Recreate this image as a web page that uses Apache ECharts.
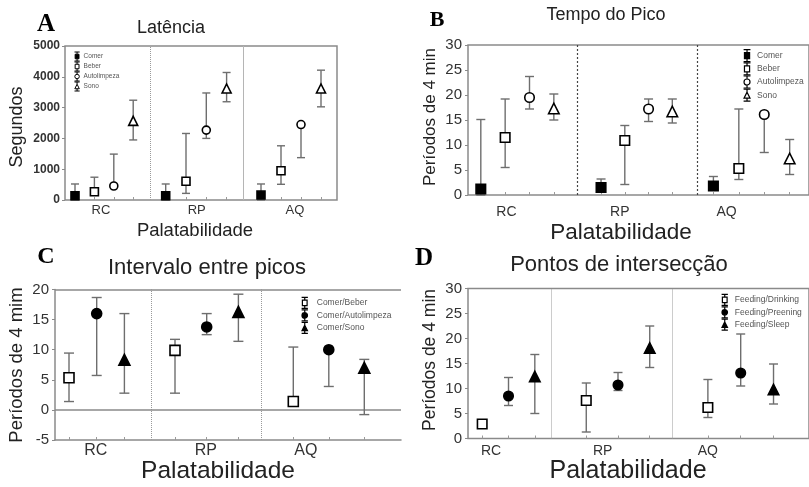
<!DOCTYPE html>
<html>
<head>
<meta charset="utf-8">
<script src="https://cdn.jsdelivr.net/npm/echarts@6/dist/echarts.min.js"></script>
<style>
  html, body { margin: 0; padding: 0; background: #fff; }
  #chart { width: 809px; height: 487px; }
</style>
</head>
<body>
<div id="chart"></div>
<script>
// Palatability groups shared by all four panels
const categories = ['RC', 'RP', 'AQ'];

// A — Latência (segundos): median with lower / upper whisker per group
const latComer = [140, 140, 160];
const latComerLow = [0, 0, 0];
const latComerHigh = [520, 520, 520];
const latBeber = [270, 610, 950];
const latBeberLow = [200, 215, 510];
const latBeberHigh = [740, 2160, 1760];
const latAuto = [455, 2270, 2450];
const latAutoLow = [420, 2000, 1375];
const latAutoHigh = [1490, 3475, 2450];
const latSono = [2570, 3620, 3620];
const latSonoLow = [1950, 3190, 3025];
const latSonoHigh = [3240, 4140, 4215];
const latTicks = [0, 1000, 2000, 3000, 4000, 5000];

// B — Tempo do Pico (períodos de 4 min)
const picoComer = [1.2, 1.5, 1.8];
const picoComerLow = [0, 1.5, 1.8];
const picoComerHigh = [15.1, 3.2, 3.7];
const picoBeber = [11.5, 10.9, 5.3];
const picoBeberLow = [5.5, 2.1, 3.1];
const picoBeberHigh = [19.2, 13.9, 17.2];
const picoAuto = [19.5, 17.2, 16.1];
const picoAutoLow = [17.2, 14.7, 8.5];
const picoAutoHigh = [23.7, 19.2, 16.1];
const picoSono = [17.3, 16.7, 7.3];
const picoSonoLow = [15.0, 14.4, 4.1];
const picoSonoHigh = [20.2, 19.2, 11.1];
const picoTicks = [0, 5, 10, 15, 20, 25, 30];

// C — Intervalo entre picos (períodos de 4 min)
const intBeber = [5.33, 9.89, 1.39];
const intBeberLow = [1.39, 2.78, 1.39];
const intBeberHigh = [9.44, 11.72, 10.44];
const intAuto = [16.0, 13.78, 10.0];
const intAutoLow = [5.72, 12.5, 3.89];
const intAutoHigh = [18.67, 16.0, 10.0];
const intSono = [8.33, 16.28, 7.0];
const intSonoLow = [2.78, 11.39, -0.78];
const intSonoHigh = [16.0, 19.22, 8.39];
const intTicks = [-5, 0, 5, 10, 15, 20];

// D — Pontos de intersecção (períodos de 4 min)
const ptDrinking = [2.9, 7.6, 6.2];
const ptDrinkingLow = [2.5, 1.3, 4.2];
const ptDrinkingHigh = [3.4, 11.1, 11.8];
const ptPreening = [8.5, 10.7, 13.1];
const ptPreeningLow = [6.6, 9.6, 10.5];
const ptPreeningHigh = [12.2, 13.2, 20.9];
const ptSleep = [12.4, 18.1, 9.8];
const ptSleepLow = [5.0, 14.2, 6.9];
const ptSleepHigh = [16.8, 22.5, 14.9];
const ptTicks = [0, 5, 10, 15, 20, 25, 30];

const FONT = '"Liberation Sans", Arial, Helvetica, sans-serif';
const SERIF = '"Liberation Serif", "Times New Roman", serif';
const WHISKER = '#6e6e6e';

// Legend glyphs: the marker with a capped whisker above and below it
const LEGEND_ICONS = {
  rect: 'path://M1,0H9M5,0V3.5M2,3.5H8V10.5H2ZM5,10.5V14M1,14H9',
  circle: 'path://M1,0H9M5,0V3.5M5,3.5A3.5,3.5,0,1,1,4.99,3.5ZM5,10.5V14M1,14H9',
  triangle: 'path://M1,0H9M5,0V3.5M5,3.5L8.5,10.5H1.5ZM5,10.5V14M1,14H9'
};

// Panel layout: x axis runs in plot pixels; each group places its points from a start offset with a fixed step
const panels = [
  {
    grid: { left: 65, top: 46, width: 272, height: 154 },
    groups: [[10, 19.4], [100.7, 20.3], [196, 20]],
    dividers: [[85, 'dotted', '#9a9a9a', 1], [178.7, 'solid', '#b5b5b5', 1]],
    labelPos: [36, 131.7, 230],
    ticks: latTicks, yFont: 12, yBold: true, yMargin: 5,
    xFont: 13, xMargin: 4,
    symbolSize: 8, capHalf: 4, border: true,
    legend: { left: 74, top: 51.5, gap: 0, w: 7, h: 9, font: 6.5, lh: 7, pad: -2, bw: 1 },
    series: [
      { name: 'Comer', v: latComer, lo: latComerLow, hi: latComerHigh, symbol: 'rect', filled: true },
      { name: 'Beber', v: latBeber, lo: latBeberLow, hi: latBeberHigh, symbol: 'rect', filled: false },
      { name: 'Autolimpeza', v: latAuto, lo: latAutoLow, hi: latAutoHigh, symbol: 'circle', filled: false },
      { name: 'Sono', v: latSono, lo: latSonoLow, hi: latSonoHigh, symbol: 'triangle', filled: false }
    ]
  },
  {
    grid: { left: 468, top: 45, width: 346, height: 150 },
    groups: [[13, 24.7], [135, 24.1], [249, 25.8]],
    dividers: [[110.6, [2, 2], '#444', 1.2], [232.3, [2, 2], '#444', 1.2]],
    labelPos: [39, 154, 262.3],
    ticks: picoTicks, yFont: 15, yBold: false, yMargin: 6,
    xFont: 14, xMargin: 10,
    symbolSize: 9.5, capHalf: 4.5, border: true,
    legend: { left: 743, top: 49, gap: 0, w: 8, h: 12, font: 8.5, lh: 10, pad: 1, bw: 1.2 },
    series: [
      { name: 'Comer', v: picoComer, lo: picoComerLow, hi: picoComerHigh, symbol: 'rect', filled: true },
      { name: 'Beber', v: picoBeber, lo: picoBeberLow, hi: picoBeberHigh, symbol: 'rect', filled: false },
      { name: 'Autolimpeza', v: picoAuto, lo: picoAutoLow, hi: picoAutoHigh, symbol: 'circle', filled: false },
      { name: 'Sono', v: picoSono, lo: picoSonoLow, hi: picoSonoHigh, symbol: 'triangle', filled: false }
    ]
  },
  {
    grid: { left: 55, top: 289.5, width: 346, height: 150.5 },
    groups: [[14, 27.7], [120, 31.7], [238.3, 35.5]],
    dividers: [[96.7, 'dotted', '#9a9a9a', 1], [206.7, 'dotted', '#9a9a9a', 1]],
    labelPos: [40.8, 150.8, 250.8],
    ticks: intTicks, yFont: 15, yBold: false, yMargin: 6,
    xFont: 16, xMargin: 3,
    symbolSize: 10, capHalf: 5, border: false, zeroLine: true,
    legend: { left: 301, top: 296.8, gap: 0.3, w: 8, h: 11, font: 8.5, lh: 10, pad: 3, bw: 1.2 },
    series: [
      { name: 'Comer/Beber', v: intBeber, lo: intBeberLow, hi: intBeberHigh, symbol: 'rect', filled: false },
      { name: 'Comer/Autolimpeza', v: intAuto, lo: intAutoLow, hi: intAutoHigh, symbol: 'circle', filled: true },
      { name: 'Comer/Sono', v: intSono, lo: intSonoLow, hi: intSonoHigh, symbol: 'triangle', filled: true }
    ]
  },
  {
    grid: { left: 468, top: 288.5, width: 346, height: 150 },
    groups: [[14.4, 26.7], [120, 32.2], [243.4, 33.3]],
    dividers: [[84, 'dotted', '#9a9a9a', 1], [207.7, 'dotted', '#9a9a9a', 1]],
    labelPos: [23.4, 136.7, 243.4],
    ticks: ptTicks, yFont: 15, yBold: false, yMargin: 6,
    xFont: 14, xMargin: 6,
    symbolSize: 9.5, capHalf: 4.5, border: true,
    legend: { left: 721, top: 293.8, gap: 0.2, w: 8, h: 11, font: 8.5, lh: 10, pad: 1, bw: 1.2 },
    series: [
      { name: 'Feeding/Drinking', v: ptDrinking, lo: ptDrinkingLow, hi: ptDrinkingHigh, symbol: 'rect', filled: false },
      { name: 'Feeding/Preening', v: ptPreening, lo: ptPreeningLow, hi: ptPreeningHigh, symbol: 'circle', filled: true },
      { name: 'Feeding/Sleep', v: ptSleep, lo: ptSleepLow, hi: ptSleepHigh, symbol: 'triangle', filled: true }
    ]
  }
];

function errorBarRenderer(capHalf) {
  return function (params, api) {
    const x = api.value(0);
    const pLo = api.coord([x, api.value(1)]);
    const pHi = api.coord([x, api.value(2)]);
    const st = { stroke: WHISKER, lineWidth: 1.4 };
    return {
      type: 'group',
      children: [
        { type: 'line', shape: { x1: pLo[0], y1: pLo[1], x2: pHi[0], y2: pHi[1] }, style: st },
        { type: 'line', shape: { x1: pLo[0] - capHalf, y1: pLo[1], x2: pLo[0] + capHalf, y2: pLo[1] }, style: st },
        { type: 'line', shape: { x1: pHi[0] - capHalf, y1: pHi[1], x2: pHi[0] + capHalf, y2: pHi[1] }, style: st }
      ]
    };
  };
}

const option = {
  animation: false,
  backgroundColor: '#fff',
  textStyle: { fontFamily: FONT },
  grid: [], xAxis: [], yAxis: [], series: [], legend: []
};

panels.forEach((p, pi) => {
  const ticks = p.ticks;
  option.grid.push(Object.assign({
    show: p.border, borderColor: '#8a8a8a', borderWidth: 1.5, backgroundColor: 'transparent'
  }, p.grid));

  const pointX = (g, i) => p.groups[g][0] + i * p.groups[g][1];
  const tickXs = [];
  p.series.forEach((s, i) => categories.forEach((c, g) => tickXs.push(pointX(g, i))));

  option.xAxis.push({
    type: 'value', gridIndex: pi, min: 0, max: p.grid.width,
    splitLine: { show: false },
    axisLine: { show: !p.border, onZero: false, lineStyle: { color: '#8a8a8a', width: 1.5 } },
    axisTick: { show: true, inside: true, length: 3, customValues: tickXs, lineStyle: { color: '#9a9a9a' } },
    axisLabel: {
      show: true, customValues: p.labelPos, margin: p.xMargin,
      fontSize: p.xFont, color: '#333', fontFamily: FONT,
      formatter: (v) => {
        const k = p.labelPos.findIndex(q => Math.abs(q - v) < 0.6);
        return k >= 0 ? categories[k] : '';
      }
    }
  });
  option.yAxis.push({
    type: 'value', gridIndex: pi,
    min: ticks[0], max: ticks[ticks.length - 1], interval: ticks[1] - ticks[0],
    splitLine: { show: false },
    axisLine: { show: !p.border, onZero: false, lineStyle: { color: '#8a8a8a', width: 1.5 } },
    axisTick: { show: true, length: 3, lineStyle: { color: '#8a8a8a' } },
    axisLabel: {
      margin: p.yMargin, fontSize: p.yFont, color: '#333',
      fontWeight: p.yBold ? 'bold' : 'normal', fontFamily: FONT,
      formatter: (v) => String(v)
    }
  });

  // whiskers for every point of the panel
  const bars = [];
  p.series.forEach((s, i) => categories.forEach((c, g) => bars.push([pointX(g, i), s.lo[g], s.hi[g]])));
  option.series.push({
    type: 'custom', name: 'whiskers-' + pi, xAxisIndex: pi, yAxisIndex: pi,
    renderItem: errorBarRenderer(p.capHalf),
    encode: { x: 0, y: [1, 2] }, data: bars, z: 2, silent: true
  });

  p.series.forEach((s, i) => {
    const ser = {
      type: 'scatter', name: s.name, xAxisIndex: pi, yAxisIndex: pi,
      symbol: s.symbol, symbolSize: s.symbol === 'triangle' ? p.symbolSize + 1 : p.symbolSize,
      itemStyle: { color: s.filled ? '#000' : '#fff', borderColor: '#000', borderWidth: 1.6, opacity: 1 },
      data: categories.map((c, g) => [pointX(g, i), s.v[g]]),
      z: 5, silent: true
    };
    if (i === 0) {
      const lines = p.dividers.map(d => ({
        xAxis: d[0], lineStyle: { type: d[1], color: d[2], width: d[3] }
      }));
      if (p.zeroLine) {
        lines.push({ yAxis: 0, lineStyle: { type: 'solid', color: '#8a8a8a', width: 1.5 } });
        lines.push({ yAxis: ticks[ticks.length - 1], lineStyle: { type: 'solid', color: '#8a8a8a', width: 1.5 } });
      }
      ser.markLine = { silent: true, symbol: ['none', 'none'], label: { show: false }, animation: false, data: lines, z: 1 };
    }
    option.series.push(ser);
  });

  option.legend.push({
    orient: 'vertical', left: p.legend.left, top: p.legend.top,
    itemWidth: p.legend.w, itemHeight: p.legend.h, itemGap: p.legend.gap,
    padding: 0, selectedMode: false,
    data: p.series.map(s => ({
      name: s.name,
      icon: LEGEND_ICONS[s.symbol],
      itemStyle: { color: s.filled ? '#000' : '#fff', borderColor: '#000', borderWidth: p.legend.bw }
    })),
    textStyle: {
      fontSize: p.legend.font, lineHeight: p.legend.lh, color: '#555', fontFamily: FONT,
      padding: [0, 0, 0, p.legend.pad]
    }
  });
});

// panel letters, titles and axis names
const textEl = (x, y, text, size, opts = {}) => ({
  type: 'text', x, y, rotation: opts.rot || 0, silent: true,
  style: {
    text, fill: opts.color || '#222',
    font: (opts.bold ? 'bold ' : '') + size + 'px ' + (opts.font || FONT),
    textAlign: 'center', textVerticalAlign: 'middle'
  }
});
option.graphic = [
  textEl(46, 25, 'A', 25, { bold: true, font: SERIF, color: '#000' }),
  textEl(437, 20, 'B', 22, { bold: true, font: SERIF, color: '#000' }),
  textEl(46, 257, 'C', 24, { bold: true, font: SERIF, color: '#000' }),
  textEl(424, 259, 'D', 25, { bold: true, font: SERIF, color: '#000' }),
  textEl(171, 28, 'Latência', 18),
  textEl(606, 15, 'Tempo do Pico', 18),
  textEl(207, 268, 'Intervalo entre picos', 22),
  textEl(619, 265, 'Pontos de intersecção', 22),
  textEl(17, 127, 'Segundos', 18, { rot: Math.PI / 2 }),
  textEl(430, 117, 'Períodos de 4 min', 17, { rot: Math.PI / 2 }),
  textEl(17, 365, 'Períodos de 4 mim', 18.5, { rot: Math.PI / 2 }),
  textEl(430, 360, 'Períodos de 4 min', 17.5, { rot: Math.PI / 2 }),
  textEl(195, 231, 'Palatabilidade', 18.5),
  textEl(621, 233, 'Palatabilidade', 22.5),
  textEl(218, 471, 'Palatabilidade', 24.5),
  textEl(628, 471, 'Palatabilidade', 25)
];

const chart = echarts.init(document.getElementById('chart'), null, { renderer: 'canvas' });
chart.setOption(option);
</script>
</body>
</html>
